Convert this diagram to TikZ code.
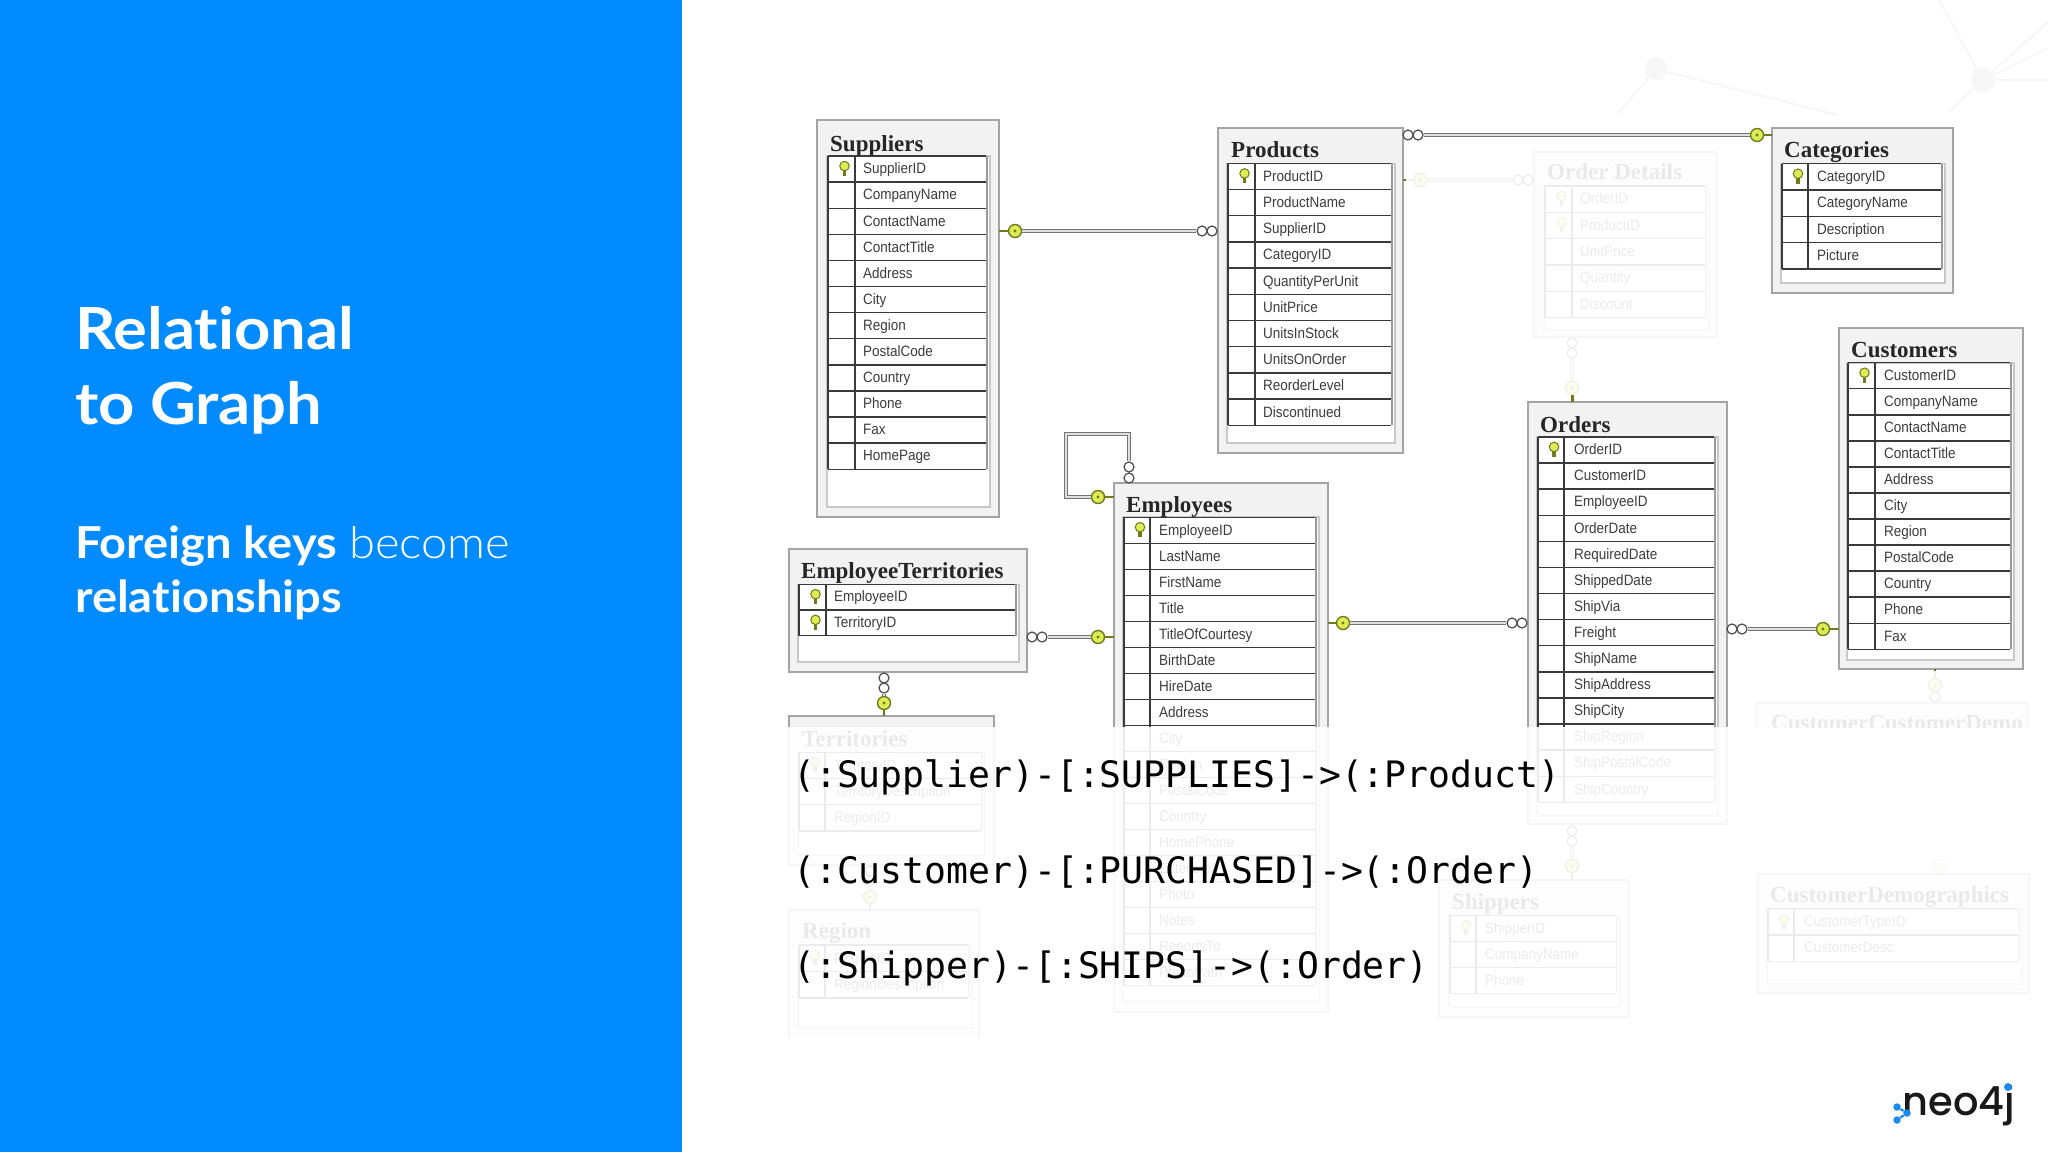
\documentclass[tikz,border=0pt]{standalone}
\usepackage{fontspec}
\setmainfont{Liberation Sans}
\newfontfamily\colfont[FakeStretch=0.9]{Liberation Sans}
\newfontfamily\ttlfont{Liberation Serif}
\newfontfamily\headfont[FakeStretch=1.09,Ligatures=NoCommon]{Lato}
\newfontfamily\subfont[FakeStretch=1.07,Ligatures=NoCommon]{Lato}
\newfontfamily\lightfont[FakeStretch=1.07]{Lato Light}
\newfontfamily\codefont{DejaVu Sans Mono}
\newfontfamily\logofont{Poppins Medium}
\definecolor{neoblue}{HTML}{018BFF}
\definecolor{logoblue}{HTML}{1A8CF0}
\definecolor{framegray}{HTML}{A4A4A4}
\definecolor{framefill}{HTML}{F2F2F2}
\definecolor{panelline}{HTML}{C8C8C8}
\definecolor{gridline}{HTML}{3A3A3A}
\definecolor{coltext}{HTML}{3C3C3C}
\definecolor{keygreen}{HTML}{DDEB55}
\definecolor{keyolive}{HTML}{6E7A1C}
\definecolor{ghost}{HTML}{F7F7F7}
\tikzset{
  x=1pt,y=-1pt,
  tabframe/.style={draw=framegray,fill=framefill,line width=1.8pt,inner sep=0pt,outer sep=0pt},
  panelbox/.style={draw=panelline,fill=white,line width=1.6pt},
  gridrule/.style={draw=gridline,line width=1.4pt},
  gridshade/.style={draw=gray!80,line width=2.4pt},
  tabtitle/.style={anchor=base west,inner sep=0pt,text=black!85,font=\fontsize{23}{26}\selectfont\ttlfont\bfseries},
  coltxt/.style={anchor=base west,inner sep=0pt,text=coltext,font=\fontsize{15}{18}\selectfont\colfont},
  keybulb/.style={circle,draw=keyolive,fill=keygreen,line width=1pt,minimum size=9.5pt,inner sep=0pt},
  keystalk/.style={draw=keyolive,line width=3.2pt},
  keybow/.style={circle,draw=keyolive,fill=keygreen,line width=1.4pt,minimum size=13pt,inner sep=0pt,
    path picture={\fill[keyolive] (path picture bounding box.center) circle (1.6pt);}},
  keypin/.style={draw=keyolive,line width=2.4pt},
  ringend/.style={circle,draw=black!70,fill=white,line width=1.2pt,minimum size=10pt,inner sep=0pt},
  relline/.style={draw=black!55,double=black!12,line width=1.4pt,double distance=2pt},
  veil/.style={fill=white,opacity=#1},
  codeline/.style={anchor=base west,inner sep=0pt,text=black,font=\fontsize{36.4}{40}\selectfont\codefont},
  ghostdot/.style={circle,fill=ghost,minimum size=#1,inner sep=0pt},
  ghostline/.style={draw=ghost,line width=2pt},
  logodot/.style={circle,fill=logoblue,minimum size=#1,inner sep=0pt},
  logoline/.style={draw=logoblue,line width=2.2pt},
}
\def\erdF#1,#2,#3,#4,#5;{\def\fxa{#1}\def\fya{#2}\def\fxb{#3}\def\fyb{#4}\def\pby{#5}}
\def\erdT#1,#2;{\def\tx{#1}\def\ty{#2}}
\def\erdG#1,#2,#3,#4,#5,#6,#7;{\def\gxa{#1}\def\gxb{#2}\def\gdv{#3}\def\gty{#4}\def\rowh{#5}\def\nkeys{#6}\def\txtx{#7}}
% name, title, frame, title position, grid, rows
\newcommand{\erd}[6]{%
  \erdF#3;\erdT#4;\erdG#5;%
  \pgfmathsetmacro\fw{\fxb-\fxa}\pgfmathsetmacro\fh{\fyb-\fya}%
  \node[tabframe,anchor=north west,minimum width=\fw pt,minimum height=\fh pt] (#1) at (\fxa,\fya) {};%
  \pgfmathsetmacro\pxa{\gxa-1}\pgfmathsetmacro\pxb{\gxb+4}%
  \draw[panelbox] (\pxa,\gty) rectangle (\pxb,\pby);%
  \node[tabtitle] (#1-title) at (\tx,\ty) {#2};%
  \def\lastrow{0}%
  \foreach \txt [count=\i] in {#6} {%
    \pgfmathsetmacro\ry{\gty+(\i-0.5)*\rowh}%
    \pgfmathsetmacro\rl{\gty+\i*\rowh}%
    \pgfmathsetmacro\by{\ry+4.8}%
    \pgfmathsetmacro\kx{(\gxa+\gdv)/2+3}%
    \pgfmathsetmacro\kya{\ry-3}\pgfmathsetmacro\kyb{\ry+7}%
    \draw[gridrule] (\gxa,\rl) -- (\gxb,\rl);%
    \node[coltxt] (#1-r\i) at (\txtx,\by) {\txt};%
    \ifnum\i>\nkeys\else
      \draw[keystalk] (\kx,\kya) -- (\kx,\kyb);%
      \node[keybulb] (#1-k\i) at (\kx,\kya) {};%
    \fi
    \xdef\lastrow{\rl}%
  }%
  \draw[gridrule] (\gxa,\gty) -- (\gxb,\gty);%
  \draw[gridrule] (\gxa,\gty) -- (\gxa,\lastrow);%
  \draw[gridrule,line width=1.1pt] (\gdv,\gty) -- (\gdv,\lastrow);%
  \pgfmathsetmacro\shx{\gxb+1}%
  \draw[gridshade] (\shx,\gty) -- (\shx,\lastrow);%
}
\begin{document}
\begin{tikzpicture}
\useasboundingbox (0,0) rectangle (2048,1152);
\fill[white] (0,0) rectangle (2048,1152);
% faint backdrop network
\node[ghostdot=23pt] (g1) at (1656,69) {};
\node[ghostdot=25pt] (g2) at (1983,80) {};
\coordinate (ga) at (1617,115); \coordinate (gb) at (1837,115);
\coordinate (gc) at (1939,0); \coordinate (gd) at (2048,22);
\coordinate (ge) at (2048,48); \coordinate (gf) at (2048,80);
\coordinate (gh) at (1949,112);
\draw[ghostline] (g1) -- (ga); \draw[ghostline] (g1) -- (gb);
\draw[ghostline] (g2) -- (gc); \draw[ghostline] (g2) -- (gd);
\draw[ghostline] (g2) -- (ge); \draw[ghostline] (g2) -- (gf);
\draw[ghostline] (g2) -- (gh);

% tables
\erd{suppliers}{Suppliers}{817,120,999,517,507}{830,151}{828,986,855,156,26.1,1,863}
 {SupplierID,CompanyName,ContactName,ContactTitle,Address,City,Region,PostalCode,Country,Phone,Fax,HomePage}
\erd{products}{Products}{1218,128,1403,453,443}{1231,157.5}{1228,1391,1255,163.3,26.2,1,1263}
 {ProductID,ProductName,SupplierID,CategoryID,QuantityPerUnit,UnitPrice,UnitsInStock,UnitsOnOrder,ReorderLevel,Discontinued}
\erd{categories}{Categories}{1772,128,1953,293,283}{1784,157.5}{1782,1941,1808,163.5,26.4,1,1817}
 {CategoryID,CategoryName,Description,Picture}
\erd{orderdetails}{Order Details}{1534,152,1717,337,330}{1547,179.5}{1545,1705,1572,186,26.3,2,1580}
 {OrderID,ProductID,UnitPrice,Quantity,Discount}
\erd{orders}{Orders}{1528,402,1727,824,815}{1540,432}{1538,1714,1564,436.9,26.1,1,1574}
 {OrderID,CustomerID,EmployeeID,OrderDate,RequiredDate,ShippedDate,ShipVia,Freight,ShipName,ShipAddress,ShipCity,ShipRegion,ShipPostalCode,ShipCountry}
\erd{customers}{Customers}{1839,328,2023,669,660}{1851,357.5}{1848,2010,1875,362.7,26.05,1,1884}
 {CustomerID,CompanyName,ContactName,ContactTitle,Address,City,Region,PostalCode,Country,Phone,Fax}
\erd{employees}{Employees}{1114,483,1328,1012,1001}{1126,512}{1124,1315,1150,517.2,26.0,1,1159}
 {EmployeeID,LastName,FirstName,Title,TitleOfCourtesy,BirthDate,HireDate,Address,City,Region,PostalCode,Country,HomePhone,Extension,Photo,Notes,ReportsTo,PhotoPath}
\erd{empterr}{EmployeeTerritories}{789,549,1027,672,662}{801,578}{799,1015,826,584.3,25.7,2,834}
 {EmployeeID,TerritoryID}
\erd{territories}{Territories}{789,716,994,865,855}{802,746}{799,981,825,752.3,26.2,1,834}
 {TerritoryID,TerritoryDescription,RegionID}
\erd{region}{Region}{789,910,979,1045,1028}{802,938.5}{799,968,825,945,26.5,1,834}
 {RegionID,RegionDescription}
\erd{shippers}{Shippers}{1439,880,1629,1017,1007}{1452,909.5}{1450,1616,1476,915.3,26,1,1485}
 {ShipperID,CompanyName,Phone}
\erd{custdemo}{CustomerDemographics}{1758,874,2029,993,984}{1770,902.5}{1768,2018,1794,908.7,26.3,1,1804}
 {CustomerTypeID,CustomerDesc}
\begin{scope}
  \clip (1740,690) rectangle (2048,727);
  \erd{custcust}{CustomerCustomerDemo}{1756,703,2028,860,850}{1771,730}{1768,2018,1794,745,26.3,2,1804}
   {CustomerID,CustomerTypeID}
\end{scope}

% Suppliers - Products
\node[keybow] (k1) at (1015,231) {};
\node[ringend] (r1b) at (1212,231) {}; \node[ringend] (r1a) at (1202,231) {};
\draw[relline] (k1) -- (r1a);
\draw[keypin] (suppliers.east |- k1) -- (k1);
% Products - Categories
\node[keybow] (k2) at (1757,135) {};
\node[ringend] (r2a) at (1408,135) {}; \node[ringend] (r2b) at (1418,135) {};
\draw[relline] (r2b) -- (k2);
\draw[keypin] (k2) -- (categories.west |- k2);
% Employees self loop
\node[ringend] (r3a) at (1129,478) {}; \node[ringend] (r3b) at (1129,467) {};
\node[keybow] (k3) at (1098,497) {};
\coordinate (lp1) at (1129,434); \coordinate (lp2) at (1066,434); \coordinate (lp3) at (1066,497);
\draw[relline] (r3b) -- (lp1) -- (lp2) -- (lp3) -- (k3);
\draw[keypin] (k3) -- (employees.west |- k3);
% EmployeeTerritories - Employees
\node[ringend] (r4a) at (1032,637) {}; \node[ringend] (r4b) at (1042,637) {};
\node[keybow] (k4) at (1098,637) {};
\draw[relline] (r4b) -- (k4);
\draw[keypin] (k4) -- (employees.west |- k4);
% EmployeeTerritories - Territories
\node[ringend] (r5a) at (884,678) {}; \node[ringend] (r5b) at (884,688) {};
\node[keybow] (k5) at (884,703) {};
\draw[relline] (r5b) -- (k5);
\draw[keypin] (k5) -- (territories.north -| k5);
% Employees - Orders
\node[keybow] (k6) at (1343,623) {};
\node[ringend] (r6a) at (1512,623) {}; \node[ringend] (r6b) at (1522,623) {};
\draw[relline] (k6) -- (r6a);
\draw[keypin] (employees.east |- k6) -- (k6);
% Orders - Customers
\node[ringend] (r7a) at (1732,629) {}; \node[ringend] (r7b) at (1742,629) {};
\node[keybow] (k7) at (1823,629) {};
\draw[relline] (r7b) -- (k7);
\draw[keypin] (k7) -- (customers.west |- k7);
% Orders - Shippers
\node[ringend] (r8a) at (1572,831) {}; \node[ringend] (r8b) at (1572,841) {};
\node[keybow] (k8) at (1572,866) {};
\draw[relline] (r8b) -- (k8);
\draw[keypin] (k8) -- (shippers.north -| k8);
% Territories - Region
\node[ringend] (r9a) at (870,871) {}; \node[ringend] (r9b) at (870,881) {};
\node[keybow] (k9) at (870,897) {};
\draw[relline] (r9b) -- (k9);
\draw[keypin] (k9) -- (region.north -| k9);
% Customers - CustomerCustomerDemo
\node[keybow] (k10) at (1935,685) {};
\node[ringend] (r10) at (1935,697) {};
\draw[relline] (k10) -- (r10);
\draw[keypin] (customers.south -| k10) -- (k10);
% CustomerDemographics key
\node[keybow] (k11) at (1939,866) {};
\draw[keypin] (k11) -- (custdemo.north -| k11);
% Products - Order Details
\node[keybow] (k12) at (1420,180) {};
\node[ringend] (r12a) at (1518,180) {}; \node[ringend] (r12b) at (1528,180) {};
\draw[relline] (k12) -- (r12a);
\draw[keypin] (products.east |- k12) -- (k12);
% Order Details - Orders
\node[ringend] (r13a) at (1572,343) {}; \node[ringend] (r13b) at (1572,353) {};
\node[keybow] (k13) at (1572,388) {};
\draw[relline] (r13b) -- (k13);

% fading veils
\fill[veil=.90] (1406,142) rectangle (1732,397);
\fill[veil=.90] (1740,671) rectangle (2048,727);
\fill[veil=.90] (770,727) rectangle (2048,1040);
\fill[veil=.70] (1900,850) rectangle (1980,873);
\fill[white] (770,1037) rectangle (1000,1060);

\draw[keypin,line width=3pt] (k13.south) -- (orders.north -| k13);

% Cypher lines
\node[codeline] (c1) at (793,787) {(:Supplier)-[:SUPPLIES]->(:Product)};
\node[codeline] (c2) at (793,883) {(:Customer)-[:PURCHASED]->(:Order)};
\node[codeline] (c3) at (793,978) {(:Shipper)-[:SHIPS]->(:Order)};

% left panel
\fill[neoblue] (0,0) rectangle (682,1152);
\node[anchor=base west,inner sep=0pt,text=white,font=\fontsize{58}{60}\selectfont\headfont\bfseries] (t1) at (75,349.5) {Relational};
\node[anchor=base west,inner sep=0pt,text=white,font=\fontsize{58}{60}\selectfont\headfont\bfseries] (t2) at (75,424.5) {to Graph};
\node[anchor=base west,inner sep=0pt,text=white,font=\fontsize{44}{46}\selectfont] (s1) at (75,558) {{\subfont\bfseries Foreign keys} {\lightfont become}};
\node[anchor=base west,inner sep=0pt,text=white,font=\fontsize{44}{46}\selectfont\subfont\bfseries] (s2) at (75,612) {relationships};

% logo
\node[anchor=base west,inner sep=0pt,text=black!90,font=\fontsize{40}{42}\selectfont\logofont] (logo) at (1902.5,1115) {neo4j};
\node[logodot=8pt] (ljd) at (2008,1087) {};
\node[logodot=7.5pt] (la) at (1897,1107) {};
\node[logodot=7.5pt] (lb) at (1907,1113) {};
\node[logodot=7.5pt] (lc) at (1897,1120) {};
\draw[logoline] (la) -- (lb); \draw[logoline] (lc) -- (lb);
\end{tikzpicture}
\end{document}
